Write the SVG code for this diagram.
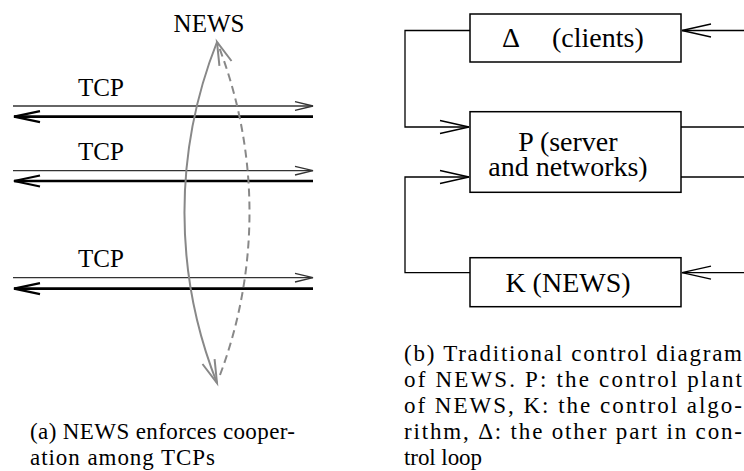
<svg xmlns="http://www.w3.org/2000/svg" width="744" height="471" viewBox="0 0 744 471">
  <defs>
    <style>
      text { font-family: 'Times New Roman', 'Liberation Serif', serif; fill: #000; }
      .box { fill: #fff; stroke: #000; stroke-width: 1.5; }
      .wire { fill: none; stroke: #000; stroke-width: 1.3; }
      .thin { fill: none; stroke: #333; stroke-width: 1.3; }
      .thick { fill: none; stroke: #000; stroke-width: 2.7; }
      .news { fill: none; stroke: #888; stroke-width: 2; }
    </style>
    <!-- open arrowheads -->
    <marker id="openSmall" markerUnits="userSpaceOnUse" viewBox="-20 -6 22 12" markerWidth="22" markerHeight="12" refX="0" refY="0" orient="auto" overflow="visible">
      <path d="M-18,-4.3 L0,0 L-18,4.3" fill="none" stroke="#333" stroke-width="1.3"/>
    </marker>
    <marker id="openThick" markerUnits="userSpaceOnUse" viewBox="-28 -7 30 14" markerWidth="30" markerHeight="14" refX="0" refY="0" orient="auto" overflow="visible">
      <path d="M-26,-5.5 L0,0 L-26,5.5" fill="none" stroke="#000" stroke-width="2.2"/>
    </marker>
    <marker id="openWire" markerUnits="userSpaceOnUse" viewBox="-31 -8 33 16" markerWidth="33" markerHeight="16" refX="0" refY="0" orient="auto" overflow="visible">
      <path d="M-29,-6.5 L0,0 L-29,6.5" fill="none" stroke="#000" stroke-width="1.3"/>
    </marker>
    <marker id="openGray" markerUnits="userSpaceOnUse" viewBox="-25 -8 27 16" markerWidth="27" markerHeight="16" refX="0" refY="0" orient="auto" overflow="visible">
      <path d="M-23,-6.5 L0,0 L-23,6.5" fill="none" stroke="#888" stroke-width="2"/>
    </marker>
  </defs>

  <rect width="744" height="471" fill="#fff"/>

  <!-- (a) TCP flows with NEWS coordination -->
  <g id="news-label">
    <text font-size="25" x="209" y="31.5" text-anchor="middle">NEWS</text>
  </g>

  <g id="tcp1">
    <text font-size="25" x="78" y="96">TCP</text>
    <line class="thin" x1="13" y1="106" x2="313" y2="106" marker-end="url(#openSmall)"/>
    <line class="thick" x1="313" y1="116.7" x2="14" y2="116.7" marker-end="url(#openThick)"/>
  </g>
  <g id="tcp2">
    <text font-size="25" x="78" y="160">TCP</text>
    <line class="thin" x1="13" y1="170.7" x2="313" y2="170.7" marker-end="url(#openSmall)"/>
    <line class="thick" x1="313" y1="181" x2="14" y2="181" marker-end="url(#openThick)"/>
  </g>
  <g id="tcp3">
    <text font-size="25" x="78" y="267">TCP</text>
    <line class="thin" x1="13" y1="277.7" x2="313" y2="277.7" marker-end="url(#openSmall)"/>
    <line class="thick" x1="313" y1="288.7" x2="14" y2="288.7" marker-end="url(#openThick)"/>
  </g>

  <g id="news-loop">
    <path class="news" d="M217,42 A463,463 0 0 0 217,383" marker-end="url(#openGray)"/>
    <path class="news" d="M220,375 A463,463 0 0 0 217,42" stroke-dasharray="8,5" marker-end="url(#openGray)"/>
  </g>

  <!-- (b) control loop blocks -->
  <g id="delta">
    <rect class="box" x="470" y="14" width="211" height="48"/>
    <text font-size="28" y="47"><tspan x="502">Δ</tspan><tspan x="552">(clients)</tspan></text>
  </g>
  <g id="plant">
    <rect class="box" x="470" y="111.7" width="211" height="80.6"/>
    <text font-size="28" x="568" y="150.5" text-anchor="middle">P (server</text>
    <text font-size="28" x="568" y="176" text-anchor="middle">and networks)</text>
  </g>
  <g id="controller">
    <rect class="box" x="470" y="257.7" width="211" height="49"/>
    <text font-size="28" x="568" y="291.5" text-anchor="middle">K (NEWS)</text>
  </g>

  <g id="connectors">
    <polyline class="wire" points="470,30.5 405,30.5 405,127 469,127" marker-end="url(#openWire)"/>
    <polyline class="wire" points="470,272.7 405,272.7 405,177 469,177" marker-end="url(#openWire)"/>
    <line class="wire" x1="681" y1="127" x2="744" y2="127"/>
    <line class="wire" x1="681" y1="177" x2="744" y2="177"/>
    <line class="wire" x1="744" y1="30.5" x2="682" y2="30.5" marker-end="url(#openWire)"/>
    <line class="wire" x1="744" y1="272.7" x2="682" y2="272.7" marker-end="url(#openWire)"/>
  </g>

  <!-- captions -->
  <g id="caption-a">
    <text font-size="23" x="30" y="439" textLength="265" lengthAdjust="spacing">(a) NEWS enforces cooper-</text>
    <text font-size="23" x="30" y="465" textLength="185" lengthAdjust="spacing">ation among TCPs</text>
  </g>
  <g id="caption-b">
    <text font-size="23" x="404" y="361" textLength="338" lengthAdjust="spacing">(b) Traditional control diagram</text>
    <text font-size="23" x="404" y="387" textLength="338" lengthAdjust="spacing">of NEWS. P: the control plant</text>
    <text font-size="23" x="404" y="413" textLength="338" lengthAdjust="spacing">of NEWS, K: the control algo-</text>
    <text font-size="23" x="404" y="439" textLength="338" lengthAdjust="spacing">rithm, Δ: the other part in con-</text>
    <text font-size="23" x="404" y="465" textLength="78" lengthAdjust="spacing">trol loop</text>
  </g>
</svg>
